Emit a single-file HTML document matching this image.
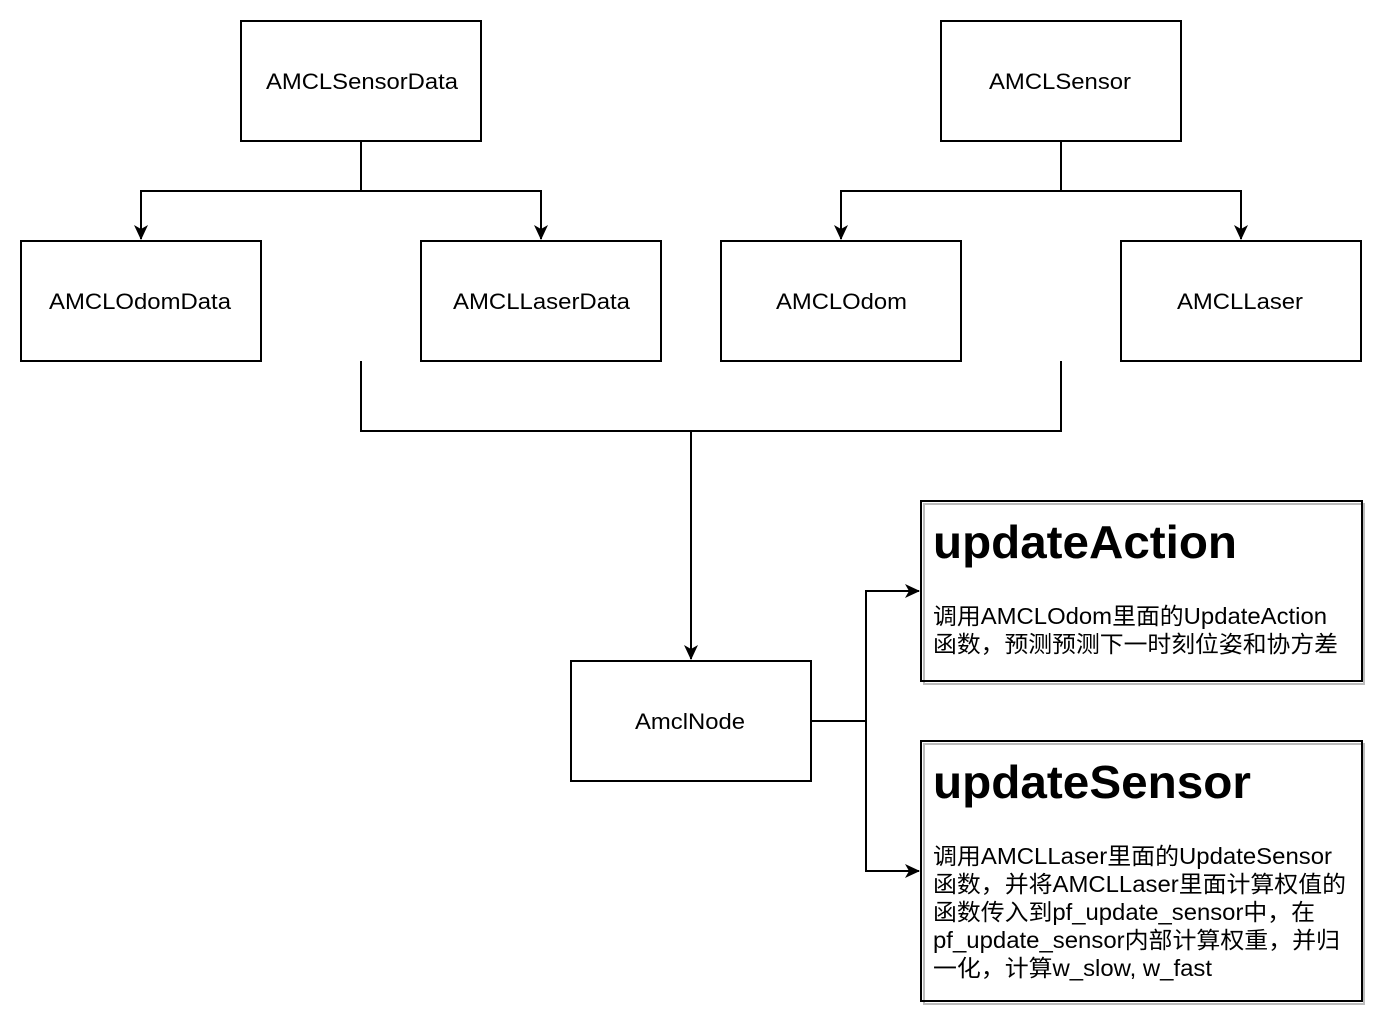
<!DOCTYPE html>
<html><head><meta charset="utf-8"><style>
html,body{margin:0;padding:0;background:#fff;}
svg{display:block;}
text{font-family:"Liberation Sans","Noto Sans CJK SC",sans-serif;fill:#000;}
</style></head><body>
<svg width="1386" height="1028" viewBox="0 0 1386 1028" xmlns="http://www.w3.org/2000/svg">
<defs><marker id="a" markerWidth="16" markerHeight="16" refX="14" refY="8" orient="auto" markerUnits="userSpaceOnUse"><path d="M0,1 L15,8 L0,15 L4,8 Z" fill="#000"/></marker></defs>
<g fill="#fff" stroke="#000" stroke-width="2">
<rect x="241" y="21" width="240" height="120"/>
<rect x="941" y="21" width="240" height="120"/>
<rect x="21" y="241" width="240" height="120"/>
<rect x="421" y="241" width="240" height="120"/>
<rect x="721" y="241" width="240" height="120"/>
<rect x="1121" y="241" width="240" height="120"/>
<rect x="571" y="661" width="240" height="120"/>
</g>
<g fill="none" stroke="#000" stroke-width="2">
<path d="M361,141 V191 H141 V239" marker-end="url(#a)"/>
<path d="M361,191 H541 V239" marker-end="url(#a)"/>
<path d="M1061,141 V191 H841 V239" marker-end="url(#a)"/>
<path d="M1061,191 H1241 V239" marker-end="url(#a)"/>
<path d="M361,361 V431 H1061 V361"/>
<path d="M691,431 V659" marker-end="url(#a)"/>
<path d="M811,721 H866 V591 H919" marker-end="url(#a)"/>
<path d="M866,721 V871 H919" marker-end="url(#a)"/>
</g>
<g fill="none">
<rect x="924" y="504" width="440" height="180" stroke="#bbb" stroke-width="2"/>
<rect x="921" y="501" width="441" height="180" stroke="#000" stroke-width="2"/>
<rect x="924" y="744" width="440" height="260" stroke="#bbb" stroke-width="2"/>
<rect x="921" y="741" width="441" height="260" stroke="#000" stroke-width="2"/>
</g>
<g font-size="22" lengthAdjust="spacingAndGlyphs">
<text x="266" y="89" textLength="192" lengthAdjust="spacingAndGlyphs">AMCLSensorData</text>
<text x="989" y="89" textLength="142" lengthAdjust="spacingAndGlyphs">AMCLSensor</text>
<text x="49" y="309" textLength="182" lengthAdjust="spacingAndGlyphs">AMCLOdomData</text>
<text x="453" y="309" textLength="177" lengthAdjust="spacingAndGlyphs">AMCLLaserData</text>
<text x="776" y="309" textLength="131" lengthAdjust="spacingAndGlyphs">AMCLOdom</text>
<text x="1177" y="309" textLength="126" lengthAdjust="spacingAndGlyphs">AMCLLaser</text>
<text x="635" y="729" textLength="110" lengthAdjust="spacingAndGlyphs">AmclNode</text>
</g>
<text x="933" y="558" font-size="46" font-weight="bold" textLength="304" lengthAdjust="spacingAndGlyphs">updateAction</text>
<g font-size="23">
<text x="933" y="624" textLength="394" lengthAdjust="spacingAndGlyphs">调用AMCLOdom里面的UpdateAction</text>
<text x="933" y="652" textLength="405" lengthAdjust="spacingAndGlyphs">函数，预测预测下一时刻位姿和协方差</text>
</g>
<text x="933" y="798" font-size="46" font-weight="bold" textLength="318" lengthAdjust="spacingAndGlyphs">updateSensor</text>
<g font-size="23">
<text x="933" y="864" textLength="399" lengthAdjust="spacingAndGlyphs">调用AMCLLaser里面的UpdateSensor</text>
<text x="933" y="892" textLength="413" lengthAdjust="spacingAndGlyphs">函数，并将AMCLLaser里面计算权值的</text>
<text x="933" y="920" textLength="382" lengthAdjust="spacingAndGlyphs">函数传入到pf_update_sensor中，在</text>
<text x="933" y="948" textLength="407" lengthAdjust="spacingAndGlyphs">pf_update_sensor内部计算权重，并归</text>
<text x="933" y="976" textLength="279" lengthAdjust="spacingAndGlyphs">一化，计算w_slow, w_fast</text>
</g>
</svg>
</body></html>
